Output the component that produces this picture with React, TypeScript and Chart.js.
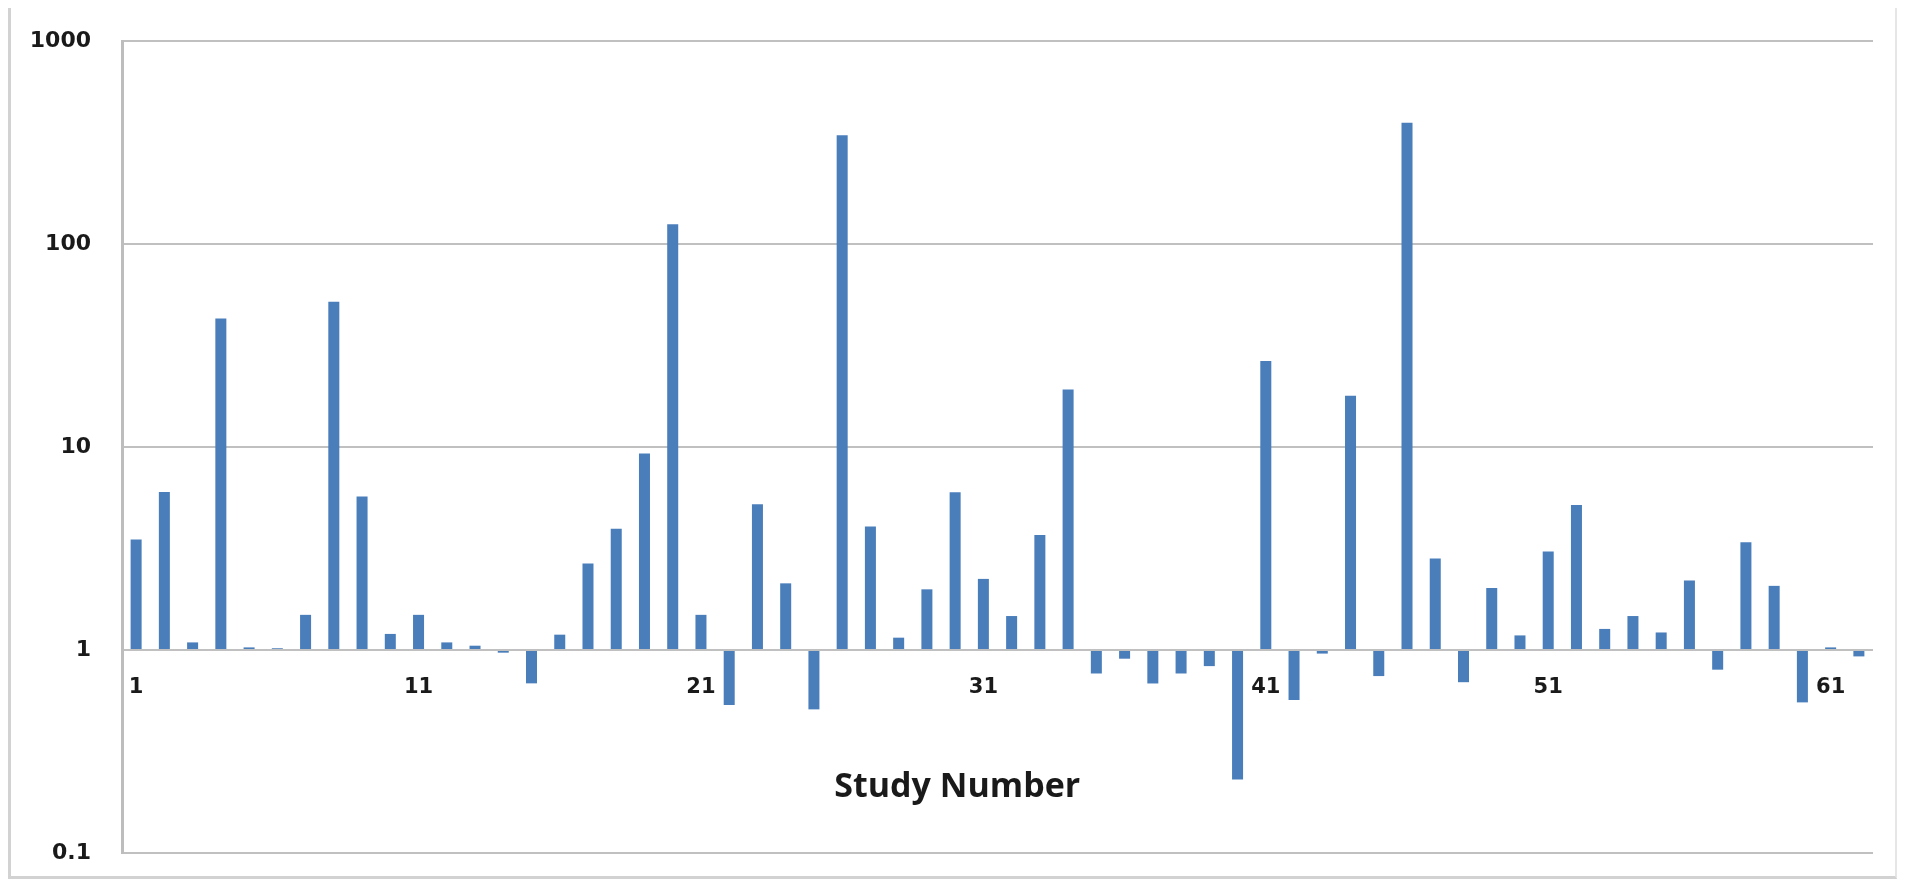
import React, { useEffect, useRef } from "react";
import { Chart, registerables } from "chart.js";

Chart.register(...registerables);

const studyNumbers: string[] = Array.from({ length: 62 }, (_, i) => String(i + 1));

const ratios: number[] = [
  3.5, 6.0, 1.09, 43, 1.03, 1.02, 1.49, 52, 5.7, 1.2,
  1.49, 1.09, 1.05, 0.97, 0.685, 1.19, 2.67, 3.96, 9.3, 125,
  1.49, 0.536, 5.23, 2.13, 0.51, 343, 4.06, 1.15, 1.99, 5.98,
  2.24, 1.47, 3.69, 19.2, 0.766, 0.906, 0.684, 0.766, 0.833, 0.23,
  26.5, 0.567, 0.96, 17.9, 0.744, 396, 2.82, 0.694, 2.02, 1.18,
  3.06, 5.18, 1.27, 1.47, 1.22, 2.2, 0.8, 3.39, 2.07, 0.552,
  1.03, 0.93,
];

const yTicks: number[] = [0.1, 1, 10, 100, 1000];
const xTitle = "Study Number";

const CANVAS_W = 1884;
const CANVAS_H = 868;

export default function App() {
  const ref = useRef<HTMLCanvasElement | null>(null);

  useEffect(() => {
    if (!ref.current) return;
    const titlePlugin = {
      id: "xTitleText",
      afterDraw(chart: any) {
        const ctx = chart.ctx;
        const area = chart.chartArea;
        ctx.save();
        ctx.font = "bold 34px 'Open Sans'";
        ctx.fillStyle = "#1a1a1a";
        ctx.textAlign = "center";
        ctx.textBaseline = "alphabetic";
        const cx = area.left + (area.right - area.left) * 0.477;
        ctx.fillText(xTitle, cx, 789);
        ctx.restore();
      },
    };
    const chart = new Chart(ref.current, {
      type: "bar",
      data: {
        labels: studyNumbers,
        datasets: [
          {
            data: ratios,
            base: 1,
            backgroundColor: "#4a7ebb",
            borderWidth: 0,
            categoryPercentage: 1,
            barPercentage: 0.39,
          } as any,
        ],
      },
      options: {
        animation: false,
        responsive: false,
        layout: { padding: { left: 0, top: 33, right: 22, bottom: 23 } },
        plugins: {
          legend: { display: false },
          tooltip: { enabled: false },
        },
        scales: {
          x: {
            type: "category",
            position: { y: 1 } as any,
            grid: { display: false, drawTicks: false },
            border: { display: false },
            ticks: {
              autoSkip: false,
              maxRotation: 0,
              minRotation: 0,
              padding: 25,
              color: "#1a1a1a",
              font: { family: "'DejaVu Sans'", size: 21, weight: "bold" },
              callback: (_v: any, idx: number) => (idx % 10 === 0 ? studyNumbers[idx] : ""),
            },
          },
          y: {
            type: "logarithmic",
            min: 0.1,
            max: 1000,
            afterFit: (s: any) => {
              s.width = 111;
              s.paddingTop = 0;
              s.paddingBottom = 0;
            },
            afterBuildTicks: (s: any) => {
              s.ticks = yTicks.map((v) => ({ value: v }));
            },
            grid: { color: "#c0c0c0", lineWidth: 2, drawTicks: false },
            border: { display: true, color: "#bdbdbd", width: 3 },
            ticks: {
              padding: 31,
              color: "#1a1a1a",
              font: { family: "'DejaVu Sans'", size: 22, weight: "bold" },
              callback: (v: any) => String(v),
            },
          },
        },
      },
      plugins: [titlePlugin],
    });
    return () => chart.destroy();
  }, []);

  return (
    <div
      style={{
        position: "relative",
        width: 1889,
        height: 871,
        borderLeft: "3px solid #d2d2d2",
        borderRight: "2px solid #e6e6e6",
        borderBottom: "3px solid #d2d2d2",
        boxSizing: "border-box",
        background: "#ffffff",
      }}
    >
      <canvas
        ref={ref}
        width={CANVAS_W}
        height={CANVAS_H}
        style={{ position: "absolute", left: 0, top: 0, width: CANVAS_W, height: CANVAS_H }}
      />
    </div>
  );
}
